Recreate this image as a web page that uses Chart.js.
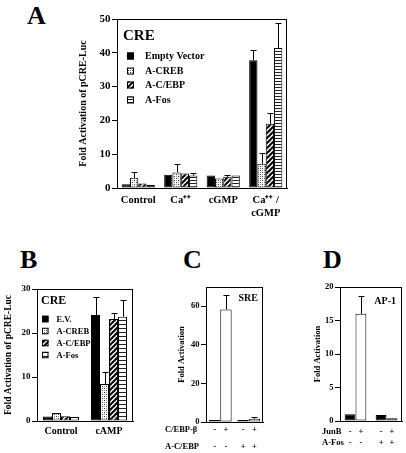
<!DOCTYPE html>
<html>
<head>
<meta charset="utf-8">
<script src="https://cdn.jsdelivr.net/npm/chart.js@4.4.1/dist/chart.umd.min.js"></script>
<style>
body { margin:0; background:#fff; width:406px; height:453px; position:relative; overflow:hidden; }
canvas { position:absolute; }
.letter { position:absolute; font: bold 26px/26px 'Liberation Serif', serif; color:#000; }
</style>
</head>
<body>
<div class="letter" style="left:27px;top:3px">A</div>
<div class="letter" style="left:20px;top:247px">B</div>
<div class="letter" style="left:183px;top:247px">C</div>
<div class="letter" style="left:323px;top:247px">D</div>
<canvas id="chartA" width="225" height="218" style="left:70px;top:0px"></canvas>
<canvas id="chartB" width="140" height="160" style="left:0px;top:280px"></canvas>
<canvas id="chartC" width="110" height="173" style="left:160px;top:280px"></canvas>
<canvas id="chartD" width="106" height="173" style="left:300px;top:280px"></canvas>
<script>
var SERIF = "'Liberation Serif', 'Times New Roman', serif";

// panel A - CRE reporter
var aCategories = ['Control', 'Ca⁺⁺', 'cGMP', ['Ca⁺⁺ /', 'cGMP']];
var aSeries = ['Empty Vector', 'A-CREB', 'A-C/EBP', 'A-Fos'];
var aEmpty = [1.1, 3.9, 3.7, 37.8];
var aEmptyErr = [0, 0, 0, 3.1];
var aCreb = [3.0, 4.6, 2.8, 7.2];
var aCrebErr = [1.6, 2.4, 0, 3.3];
var aCebp = [1.3, 4.3, 3.3, 19.0];
var aCebpErr = [0, 0, 0.4, 3.2];
var aFos = [0.9, 3.7, 3.7, 41.4];
var aFosErr = [0, 0.8, 0, 7.4];

// panel B - CRE reporter, cAMP
var bCategories = ['Control', 'cAMP'];
var bSeries = ['E.V.', 'A-CREB', 'A-C/EBP', 'A-Fos'];
var bEmpty = [1.0, 24.1];
var bEmptyErr = [0, 4.0];
var bCreb = [1.8, 8.4];
var bCrebErr = [0, 2.7];
var bCebp = [1.1, 23.2];
var bCebpErr = [0, 1.3];
var bFos = [0.9, 23.7];
var bFosErr = [0, 3.9];

// panel C - SRE reporter
var cCategories = ['-', '+'];
var cMinus = [1.0, 1.0];
var cPlus = [58.3, 1.7];
var cPlusErr = [7.3, 0.9];
var cRowLabels = ['C/EBP-β', 'A-C/EBP'];
var cSigns = [['-', '+', '-', '+'], ['-', '-', '+', '+']];

// panel D - AP-1 reporter
var dCategories = ['-', '+'];
var dMinus = [1.0, 0.9];
var dPlus = [16.0, 0.4];
var dPlusErr = [2.7, 0];
var dRowLabels = ['JunB', 'A-Fos'];
var dSigns = [['-', '+', '-', '+'], ['-', '-', '+', '+']];

function pattern(kind, period) {
  var c = document.createElement('canvas');
  var g = c.getContext('2d');
  if (kind === 'dots') {
    c.width = 4; c.height = 4;
    g.fillStyle = '#fff'; g.fillRect(0, 0, 4, 4);
    g.fillStyle = '#333'; g.fillRect(0, 0, 1, 1); g.fillRect(2, 2, 1, 1);
    g.fillStyle = '#999'; g.fillRect(2, 0, 1, 1); g.fillRect(0, 2, 1, 1);
  } else if (kind === 'diag') {
    c.width = period; c.height = period;
    g.fillStyle = '#fff'; g.fillRect(0, 0, period, period);
    g.strokeStyle = '#000'; g.lineWidth = 2;
    for (var k = -1; k <= 1; k++) {
      g.beginPath();
      g.moveTo(k * period - 1, period + 1);
      g.lineTo(k * period + period + 1, -1);
      g.stroke();
    }
  } else {
    c.width = 1; c.height = period;
    g.fillStyle = '#fff'; g.fillRect(0, 0, 1, period);
    g.fillStyle = '#222'; g.fillRect(0, 0, 1, 1);
  }
  return g.createPattern(c, 'repeat');
}

function bars(label, data, errs, fill) {
  return { label: label, data: data, errorBars: errs, backgroundColor: fill,
           borderColor: '#000', borderWidth: 1, borderSkipped: false };
}

var framePlugin = {
  id: 'frame',
  afterDraw: function(chart) {
    var a = chart.chartArea, ctx = chart.ctx;
    ctx.save();
    ctx.strokeStyle = '#000'; ctx.lineWidth = 1;
    ctx.strokeRect(Math.round(a.left) + 0.5, Math.round(a.top) + 0.5,
                   Math.round(a.right - a.left) - 1, Math.round(a.bottom - a.top));
    ctx.restore();
  }
};

var errorBarPlugin = {
  id: 'errorBars',
  afterDatasetsDraw: function(chart) {
    var ctx = chart.ctx, y = chart.scales.y;
    ctx.save();
    ctx.strokeStyle = '#000'; ctx.lineWidth = 1;
    chart.data.datasets.forEach(function(ds, i) {
      if (!ds.errorBars) return;
      chart.getDatasetMeta(i).data.forEach(function(bar, j) {
        var e = ds.errorBars[j];
        if (!e) return;
        var top = Math.round(y.getPixelForValue(ds.data[j] + e)) + 0.5;
        var x = Math.round(bar.x) + 0.5;
        ctx.beginPath();
        ctx.moveTo(x, bar.y); ctx.lineTo(x, top);
        ctx.moveTo(x - 3, top); ctx.lineTo(x + 3, top);
        ctx.stroke();
      });
    });
    ctx.restore();
  }
};

var boxLegendPlugin = {
  id: 'boxLegend',
  afterDraw: function(chart, args, o) {
    if (!o || !o.title) return;
    var ctx = chart.ctx, a = chart.chartArea;
    ctx.save();
    ctx.fillStyle = '#000';
    ctx.textBaseline = 'alphabetic';
    ctx.font = 'bold ' + o.titleSize + 'px ' + SERIF;
    if (o.right) {
      ctx.textAlign = 'right';
      ctx.fillText(o.title, a.right - o.titleX, a.top + o.titleY);
    } else {
      ctx.textAlign = 'left';
      ctx.fillText(o.title, a.left + o.titleX, a.top + o.titleY);
    }
    if (o.items) {
      ctx.textAlign = 'left';
      ctx.textBaseline = 'middle';
      ctx.font = 'bold ' + o.size + 'px ' + SERIF;
      ctx.lineWidth = 1; ctx.strokeStyle = '#000';
      chart.data.datasets.forEach(function(ds, i) {
        var cy = Math.round(a.top + o.itemY + i * o.gap);
        var bx = Math.round(a.left + o.boxX);
        ctx.fillStyle = ds.backgroundColor;
        ctx.fillRect(bx, cy - o.box / 2, o.box, o.box);
        ctx.strokeRect(bx + 0.5, cy - o.box / 2 + 0.5, o.box - 1, o.box - 1);
        ctx.fillStyle = '#000';
        ctx.fillText(ds.label, a.left + o.textX, cy + 0.5);
      });
    }
    ctx.restore();
  }
};

var signRowsPlugin = {
  id: 'signRows',
  afterDraw: function(chart, args, o) {
    if (!o || !o.labels) return;
    var ctx = chart.ctx, a = chart.chartArea;
    var n = chart.data.datasets.length;
    ctx.save();
    ctx.fillStyle = '#000';
    ctx.textBaseline = 'middle';
    ctx.font = 'bold ' + o.size + 'px ' + SERIF;
    o.labels.forEach(function(lab, r) {
      var y = a.bottom + o.y0 + r * o.gap;
      ctx.textAlign = 'left';
      ctx.fillText(lab, o.labelX, y);
      ctx.textAlign = 'center';
      chart.data.labels.forEach(function(c, j) {
        for (var i = 0; i < n; i++) {
          var bar = chart.getDatasetMeta(i).data[j];
          ctx.fillText(o.signs[r][j * n + i], bar.x, y);
        }
      });
    });
    ctx.restore();
  }
};

function yAxis(max, step, title, titleSize, titlePad, tickSize, width) {
  return {
    min: 0, max: max,
    ticks: { stepSize: step, includeBounds: false, color: '#000', padding: 1.5,
             font: { family: SERIF, weight: 'bold', size: tickSize } },
    grid: { drawOnChartArea: false, tickLength: 5, color: '#000', tickColor: '#000' },
    border: { color: '#000' },
    title: { display: !!title, text: title, color: '#000', padding: { top: titlePad, bottom: 0 },
             font: { family: SERIF, weight: 'bold', size: titleSize } },
    afterFit: function(s) { s.width = width; }
  };
}

function xAxis(height, show, size, pad) {
  return {
    ticks: { display: show, color: '#000', padding: pad, maxRotation: 0, autoSkip: false,
             font: { family: SERIF, weight: 'bold', size: size } },
    grid: { display: false, drawTicks: false },
    border: { color: '#000' },
    afterFit: function(s) { s.height = height; }
  };
}

function makeChart(id, cfg) {
  return new Chart(document.getElementById(id), {
    type: 'bar',
    data: { labels: cfg.labels, datasets: cfg.datasets },
    options: {
      responsive: false, animation: false,
      layout: { padding: cfg.pad },
      datasets: { bar: { categoryPercentage: cfg.catPct, barPercentage: 1 } },
      plugins: { legend: { display: false }, tooltip: { enabled: false },
                 boxLegend: cfg.legend, signRows: cfg.signs || {} },
      scales: { x: cfg.x, y: cfg.y }
    },
    plugins: [framePlugin, errorBarPlugin, boxLegendPlugin, signRowsPlugin]
  });
}

var dots = pattern('dots'), diag = pattern('diag', 5), horiz = pattern('horiz', 3);
var horizB = pattern('horiz', 4);

makeChart('chartA', {
  labels: aCategories,
  datasets: [bars(aSeries[0], aEmpty, aEmptyErr, '#000'), bars(aSeries[1], aCreb, aCrebErr, dots),
             bars(aSeries[2], aCebp, aCebpErr, diag), bars(aSeries[3], aFos, aFosErr, horiz)],
  pad: { top: 19, right: 8, left: 0, bottom: 0 },
  catPct: 0.78,
  x: xAxis(30, true, 10.5, 6),
  y: yAxis(50, 10, 'Fold Activation of pCRE-Luc', 10, 7, 11, 47),
  legend: { title: 'CRE', titleSize: 15, titleX: 6, titleY: 21, items: true, size: 10,
            box: 7, boxX: 10, textX: 28, itemY: 37, gap: 14.7 }
});

makeChart('chartB', {
  labels: bCategories,
  datasets: [bars(bSeries[0], bEmpty, bEmptyErr, '#000'), bars(bSeries[1], bCreb, bCrebErr, dots),
             bars(bSeries[2], bCebp, bCebpErr, diag), bars(bSeries[3], bFos, bFosErr, horizB)],
  pad: { top: 9, right: 7, left: 0, bottom: 0 },
  catPct: 0.75,
  x: xAxis(19, true, 10, 4),
  y: yAxis(30, 10, 'Fold Activation of pCRE-Luc', 9.5, 3, 9, 37),
  legend: { title: 'CRE', titleSize: 12, titleX: 4, titleY: 15, items: true, size: 8.5,
            box: 6.5, boxX: 5, textX: 19.5, itemY: 29.5, gap: 12.2 }
});

makeChart('chartC', {
  labels: cCategories,
  datasets: [bars('C/EBP-β -', cMinus, null, '#000'), bars('C/EBP-β +', cPlus, cPlusErr, '#fff')],
  pad: { top: 7, right: 7, left: 0, bottom: 0 },
  catPct: 0.8,
  x: xAxis(31, false, 9, 0),
  y: yAxis(70, 20, 'Fold Activation', 8.5, 17, 8.5, 46),
  legend: { title: 'SRE', titleSize: 10, titleX: 5, titleY: 14, right: true },
  signs: { labels: cRowLabels, signs: cSigns, size: 8.5, labelX: 5, y0: 8, gap: 16.5 }
});

makeChart('chartD', {
  labels: dCategories,
  datasets: [bars('JunB -', dMinus, null, '#000'), bars('JunB +', dPlus, dPlusErr, '#fff')],
  pad: { top: 7, right: 4, left: 0, bottom: 0 },
  catPct: 0.7,
  x: xAxis(32, false, 9, 0),
  y: yAxis(20, 5, 'Fold Activation', 8.5, 13, 8.5, 40),
  legend: { title: 'AP-1', titleSize: 10, titleX: 6, titleY: 17, right: true },
  signs: { labels: dRowLabels, signs: dSigns, size: 8.5, labelX: 22, y0: 10.5, gap: 11.5 }
});
</script>
</body>
</html>
